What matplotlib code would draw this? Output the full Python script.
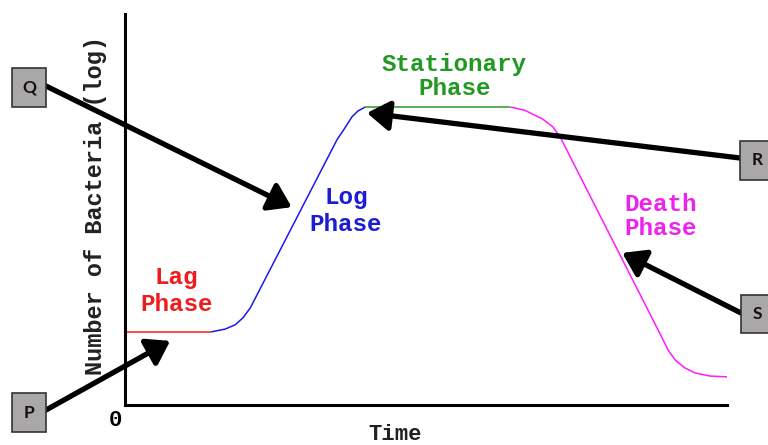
import matplotlib
matplotlib.use("Agg")
import matplotlib.pyplot as plt
from matplotlib.patches import Rectangle
from matplotlib.transforms import IdentityTransform

# ---- data (time in arbitrary units 0-100, log count in arbitrary units 0-100)
lag_t = [0.0, 14.3]
lag_y = [18.7, 18.7]

log_t = [14.3, 16.6, 18.3, 19.6, 20.8, 35.2, 36.5, 37.7, 38.7, 39.9]
log_y = [18.7, 19.4, 20.5, 22.3, 24.8, 67.8, 70.8, 73.7, 75.2, 76.2]

stat_t = [39.9, 64.0]
stat_y = [76.2, 76.2]

death_t = [64.0, 66.4, 69.4, 71.1, 72.3, 89.4, 90.2, 91.4, 93.0, 94.7, 97.2, 100.0]
death_y = [76.2, 75.4, 73.1, 71.1, 68.5, 16.6, 14.1, 11.5, 9.5, 8.2, 7.4, 7.2]

phase_labels = ["Lag\nPhase", "Log\nPhase", "Stationary\nPhase", "Death\nPhase"]
phase_label_t = [8.5, 36.7, 54.7, 89.0]
phase_label_y = [29.2, 49.6, 84.0, 48.3]
phase_spacing = [1.25, 1.25, 1.05, 1.05]
phase_colors = ["#ee1c1c", "#1c1cd0", "#229922", "#ee22ee"]
line_colors = ["#ff1a1a", "#1a1aee", "#2a9a2a", "#ff1aff"]

markers = ["Q", "P", "R", "S"]
marker_tip_t = [27.7, 7.5, 40.2, 82.6]
marker_tip_y = [50.6, 16.4, 74.7, 38.9]

# ---- figure
W, H, DPI = 768, 445, 100
fig = plt.figure(figsize=(W / DPI, H / DPI), dpi=DPI)
fig.patch.set_facecolor("white")
ax = fig.add_axes([125 / W, 1 - 405 / H, 602 / W, 391 / H])
ax.set_xlim(0, 100)
ax.set_ylim(0, 100)
for s in ["top", "right"]:
    ax.spines[s].set_visible(False)
for s in ["left", "bottom"]:
    ax.spines[s].set_linewidth(2.2)
    ax.spines[s].set_color("black")
ax.set_xticks([])
ax.set_yticks([])

mono = "Liberation Mono"

for t, y, c in zip([lag_t, log_t, stat_t, death_t], [lag_y, log_y, stat_y, death_y], line_colors):
    ax.plot(t, y, color=c, lw=1.1, solid_capstyle="butt", clip_on=False)

for lab, x, y, c, ls in zip(phase_labels, phase_label_t, phase_label_y, phase_colors, phase_spacing):
    ax.text(x, y, lab, color=c, fontsize=17.5, family=mono, fontweight="bold",
            ha="center", va="center", linespacing=ls)

ax.text(-0.0498, 0.5115, "Number of Bacteria (log)", transform=ax.transAxes,
        rotation=90, ha="center", va="center", fontsize=17, family=mono,
        fontweight="bold", color="#222222")
ax.text(0.4485, -0.076, "Time", transform=ax.transAxes, ha="center", va="center",
        fontsize=16, family=mono, fontweight="bold", color="#222222")
ax.annotate("0", xy=(0, 0), xycoords="axes fraction", xytext=(-10, -15),
            textcoords="offset pixels", ha="center", va="center",
            fontsize=16, family=mono, fontweight="bold")

# ---- marker boxes (figure pixels, origin bottom-left) and arrows
box_xy = [(12, 338), (12, 13), (740, 265), (741, 112)]
box_wh = [(34, 39), (34, 39), (40, 39), (40, 38)]
arrow_start = [(46, 359), (46, 35), (740, 287), (741, 132)]
text_xy = [(29, 357.5), (29, 32.5), (757, 285), (757, 131)]

for m, (bx, by), (bw, bh), (sx, sy), (tx, ty), et, ey in zip(
        markers, box_xy, box_wh, arrow_start, text_xy, marker_tip_t, marker_tip_y):
    ax.annotate("", xy=(et, ey), xycoords="data", xytext=(sx, sy),
                textcoords="figure pixels",
                arrowprops=dict(arrowstyle="-|>,head_length=0.45,head_width=0.3",
                                lw=3.8, color="black",
                                mutation_scale=30, shrinkA=0, shrinkB=0),
                annotation_clip=False, zorder=10)
    fig.patches.append(Rectangle((bx, by), bw, bh, transform=IdentityTransform(),
                                 facecolor="#a9a7a7", edgecolor="#333333",
                                 lw=1.2, zorder=11))
    fig.text(tx / W, ty / H, m, ha="center", va="center", fontsize=12.5,
             family="Lato", fontweight="bold", color="#111111", zorder=12)

fig.savefig("out.png", dpi=DPI, facecolor="white")
